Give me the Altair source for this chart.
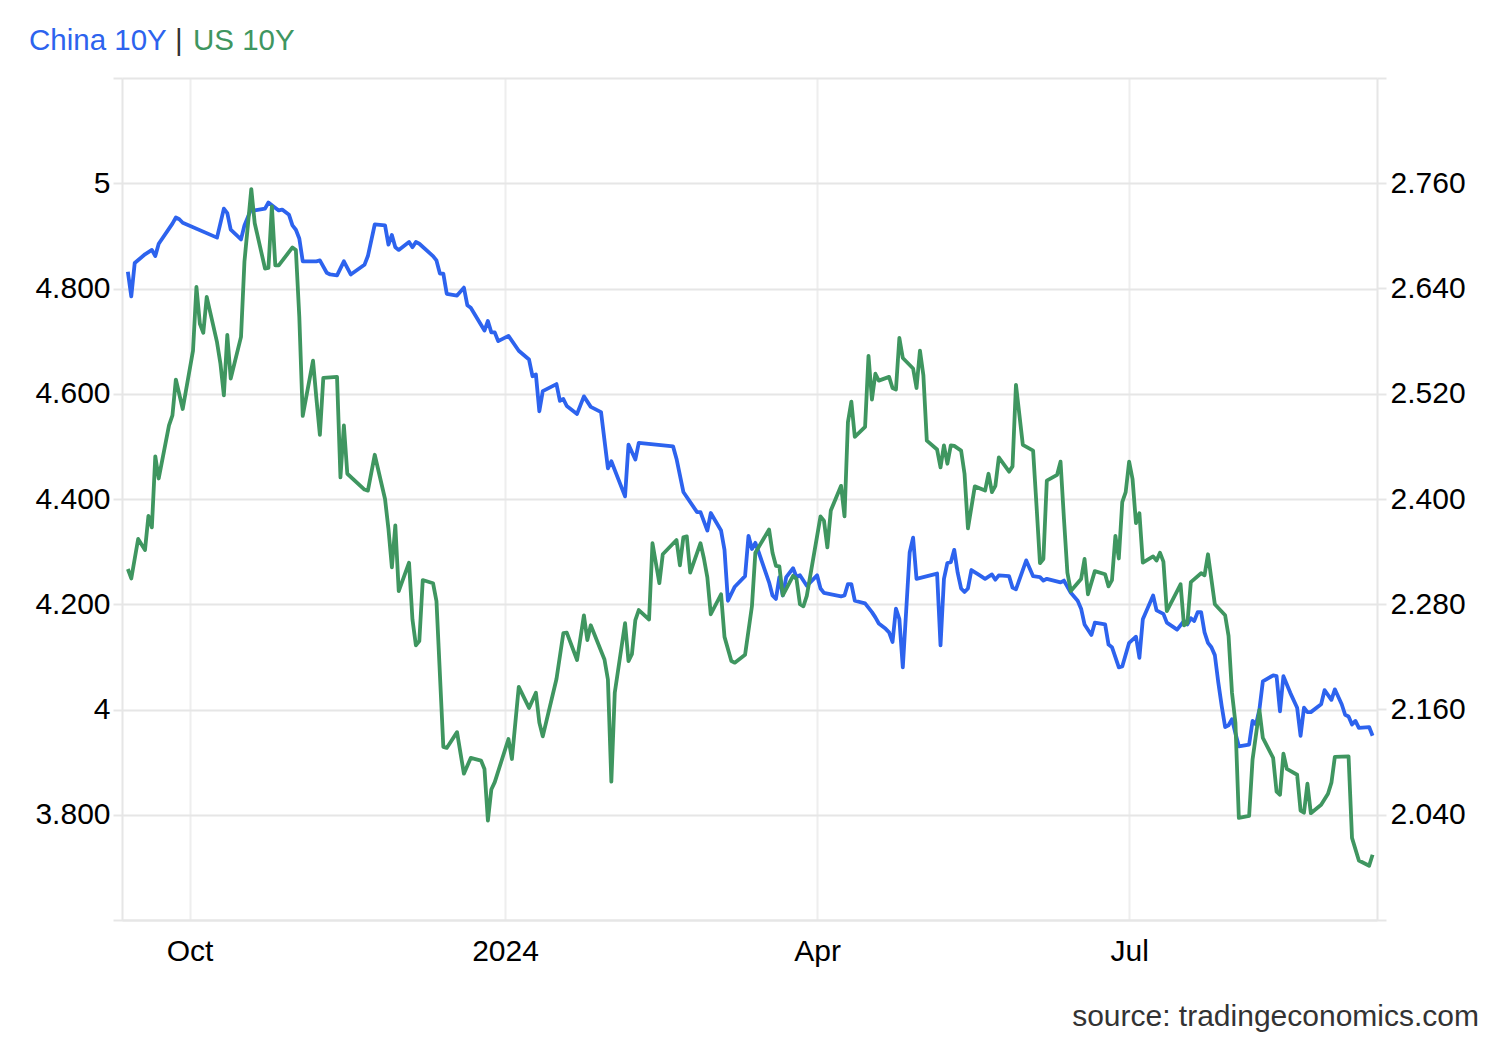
import altair as alt
import pandas as pd

# ---------------- data ----------------
china_dates = [
    "2023-09-13", "2023-09-14", "2023-09-15", "2023-09-18", "2023-09-20", "2023-09-21", "2023-09-22",
    "2023-09-26", "2023-09-27", "2023-09-28", "2023-09-29", "2023-10-09", "2023-10-11", "2023-10-12",
    "2023-10-13", "2023-10-16", "2023-10-17", "2023-10-19", "2023-10-20", "2023-10-23", "2023-10-24",
    "2023-10-25", "2023-10-27", "2023-10-28", "2023-10-30", "2023-10-31", "2023-11-01", "2023-11-02",
    "2023-11-03", "2023-11-07", "2023-11-08", "2023-11-10", "2023-11-11", "2023-11-13", "2023-11-15",
    "2023-11-17", "2023-11-21", "2023-11-22", "2023-11-24", "2023-11-27", "2023-11-28", "2023-11-29",
    "2023-11-30", "2023-12-01", "2023-12-04", "2023-12-05", "2023-12-06", "2023-12-07", "2023-12-11",
    "2023-12-12", "2023-12-13", "2023-12-14", "2023-12-15", "2023-12-18", "2023-12-20", "2023-12-21",
    "2023-12-22", "2023-12-26", "2023-12-27", "2023-12-28", "2023-12-29", "2023-12-30", "2024-01-02",
    "2024-01-05", "2024-01-08", "2024-01-09", "2024-01-10", "2024-01-11", "2024-01-12", "2024-01-16",
    "2024-01-17", "2024-01-18", "2024-01-19", "2024-01-22", "2024-01-24", "2024-01-26", "2024-01-29",
    "2024-01-31", "2024-02-01", "2024-02-05", "2024-02-06", "2024-02-08", "2024-02-09", "2024-02-19",
    "2024-02-20", "2024-02-22", "2024-02-26", "2024-02-27", "2024-02-29", "2024-03-01", "2024-03-04",
    "2024-03-05", "2024-03-06", "2024-03-08", "2024-03-11", "2024-03-12", "2024-03-13", "2024-03-14",
    "2024-03-15", "2024-03-18", "2024-03-19", "2024-03-20", "2024-03-21", "2024-03-22", "2024-03-23",
    "2024-03-25", "2024-03-26", "2024-03-27", "2024-03-29", "2024-04-01", "2024-04-02", "2024-04-03",
    "2024-04-08", "2024-04-09", "2024-04-10", "2024-04-11", "2024-04-12", "2024-04-15", "2024-04-17",
    "2024-04-18", "2024-04-19", "2024-04-21", "2024-04-22", "2024-04-23", "2024-04-24", "2024-04-25",
    "2024-04-26", "2024-04-28", "2024-04-29", "2024-04-30", "2024-05-06", "2024-05-07", "2024-05-08",
    "2024-05-09", "2024-05-10", "2024-05-11", "2024-05-12", "2024-05-13", "2024-05-14", "2024-05-15",
    "2024-05-16", "2024-05-18", "2024-05-20", "2024-05-22", "2024-05-23", "2024-05-24", "2024-05-27",
    "2024-05-28", "2024-05-29", "2024-06-01", "2024-06-03", "2024-06-05", "2024-06-06", "2024-06-07",
    "2024-06-11", "2024-06-12", "2024-06-14", "2024-06-16", "2024-06-17", "2024-06-18", "2024-06-20",
    "2024-06-21", "2024-06-24", "2024-06-25", "2024-06-26", "2024-06-28", "2024-06-29", "2024-07-01",
    "2024-07-03", "2024-07-04", "2024-07-05", "2024-07-08", "2024-07-09", "2024-07-11", "2024-07-12",
    "2024-07-15", "2024-07-17", "2024-07-18", "2024-07-19", "2024-07-20", "2024-07-21", "2024-07-22",
    "2024-07-23", "2024-07-24", "2024-07-25", "2024-07-26", "2024-07-27", "2024-07-28", "2024-07-29",
    "2024-07-30", "2024-07-31", "2024-08-01", "2024-08-02", "2024-08-05", "2024-08-06", "2024-08-07",
    "2024-08-08", "2024-08-09", "2024-08-12", "2024-08-13", "2024-08-14", "2024-08-15", "2024-08-17",
    "2024-08-19", "2024-08-20", "2024-08-21", "2024-08-22", "2024-08-23", "2024-08-26", "2024-08-27",
    "2024-08-29", "2024-08-30", "2024-09-01", "2024-09-02", "2024-09-03", "2024-09-04", "2024-09-05",
    "2024-09-06", "2024-09-09", "2024-09-10",
]
china_values = [
    2.659, 2.631, 2.669, 2.679, 2.684, 2.677, 2.691,
    2.714, 2.721, 2.719, 2.715, 2.698, 2.731, 2.726,
    2.707, 2.696, 2.712, 2.731, 2.729, 2.731, 2.738,
    2.735, 2.729, 2.730, 2.724, 2.712, 2.707, 2.697,
    2.671, 2.671, 2.672, 2.658, 2.656, 2.655, 2.671,
    2.656, 2.667, 2.677, 2.713, 2.712, 2.690, 2.701,
    2.687, 2.684, 2.693, 2.687, 2.693, 2.691, 2.677,
    2.672, 2.657, 2.657, 2.634, 2.632, 2.641, 2.621,
    2.618, 2.592, 2.603, 2.590, 2.590, 2.580, 2.586,
    2.569, 2.559, 2.540, 2.542, 2.500, 2.523, 2.531,
    2.512, 2.514, 2.506, 2.497, 2.517, 2.505, 2.499,
    2.435, 2.443, 2.403, 2.462, 2.445, 2.464, 2.460,
    2.446, 2.408, 2.385, 2.385, 2.364, 2.384, 2.364,
    2.342, 2.284, 2.300, 2.312, 2.358, 2.343, 2.350,
    2.339, 2.305, 2.290, 2.286, 2.311, 2.290, 2.311,
    2.321, 2.311, 2.313, 2.301, 2.313, 2.298, 2.293,
    2.289, 2.290, 2.303, 2.303, 2.284, 2.281, 2.271,
    2.265, 2.258, 2.252, 2.248, 2.237, 2.275, 2.263,
    2.208, 2.339, 2.356, 2.309, 2.315, 2.233, 2.309,
    2.327, 2.328, 2.342, 2.316, 2.298, 2.294, 2.298,
    2.319, 2.314, 2.309, 2.314, 2.308, 2.313, 2.312,
    2.299, 2.297, 2.330, 2.312, 2.311, 2.307, 2.309,
    2.305, 2.307, 2.293, 2.284, 2.275, 2.257, 2.245,
    2.259, 2.257, 2.234, 2.231, 2.208, 2.209, 2.236,
    2.243, 2.219, 2.263, 2.290, 2.273, 2.269, 2.259,
    2.251, 2.261, 2.257, 2.264, 2.261, 2.271, 2.271,
    2.248, 2.236, 2.231, 2.222, 2.191, 2.164, 2.140,
    2.142, 2.149, 2.133, 2.118, 2.120, 2.147, 2.143,
    2.160, 2.192, 2.199, 2.198, 2.158, 2.198, 2.179,
    2.162, 2.130, 2.162, 2.157, 2.157, 2.166, 2.182,
    2.171, 2.183, 2.166, 2.154, 2.152, 2.143, 2.147,
    2.139, 2.140, 2.130,
]

us_dates = [
    "2023-09-13", "2023-09-14", "2023-09-16", "2023-09-18", "2023-09-19", "2023-09-20", "2023-09-21",
    "2023-09-22", "2023-09-25", "2023-09-26", "2023-09-27", "2023-09-29", "2023-10-02", "2023-10-03",
    "2023-10-04", "2023-10-05", "2023-10-06", "2023-10-09", "2023-10-10", "2023-10-11", "2023-10-12",
    "2023-10-13", "2023-10-16", "2023-10-17", "2023-10-19", "2023-10-20", "2023-10-23", "2023-10-24",
    "2023-10-25", "2023-10-26", "2023-10-27", "2023-10-31", "2023-11-01", "2023-11-02", "2023-11-03",
    "2023-11-06", "2023-11-07", "2023-11-08", "2023-11-09", "2023-11-13", "2023-11-14", "2023-11-15",
    "2023-11-16", "2023-11-21", "2023-11-22", "2023-11-24", "2023-11-27", "2023-11-28", "2023-11-29",
    "2023-11-30", "2023-12-01", "2023-12-04", "2023-12-05", "2023-12-06", "2023-12-07", "2023-12-08",
    "2023-12-11", "2023-12-12", "2023-12-14", "2023-12-15", "2023-12-18", "2023-12-20", "2023-12-22",
    "2023-12-25", "2023-12-26", "2023-12-27", "2023-12-28", "2023-12-29", "2024-01-02", "2024-01-03",
    "2024-01-05", "2024-01-08", "2024-01-10", "2024-01-11", "2024-01-12", "2024-01-16", "2024-01-18",
    "2024-01-19", "2024-01-22", "2024-01-24", "2024-01-25", "2024-01-26", "2024-01-30", "2024-01-31",
    "2024-02-01", "2024-02-02", "2024-02-05", "2024-02-06", "2024-02-07", "2024-02-08", "2024-02-09",
    "2024-02-12", "2024-02-13", "2024-02-15", "2024-02-16", "2024-02-20", "2024-02-21", "2024-02-22",
    "2024-02-23", "2024-02-24", "2024-02-27", "2024-02-28", "2024-02-29", "2024-03-01", "2024-03-04",
    "2024-03-05", "2024-03-07", "2024-03-08", "2024-03-11", "2024-03-13", "2024-03-14", "2024-03-18",
    "2024-03-19", "2024-03-20", "2024-03-21", "2024-03-22", "2024-03-25", "2024-03-26", "2024-03-27",
    "2024-03-28", "2024-03-29", "2024-04-02", "2024-04-03", "2024-04-04", "2024-04-05", "2024-04-08",
    "2024-04-09", "2024-04-10", "2024-04-11", "2024-04-12", "2024-04-15", "2024-04-16", "2024-04-17",
    "2024-04-18", "2024-04-19", "2024-04-22", "2024-04-23", "2024-04-24", "2024-04-25", "2024-04-26",
    "2024-04-29", "2024-04-30", "2024-05-01", "2024-05-02", "2024-05-03", "2024-05-06", "2024-05-07",
    "2024-05-08", "2024-05-09", "2024-05-10", "2024-05-11", "2024-05-13", "2024-05-14", "2024-05-15",
    "2024-05-17", "2024-05-20", "2024-05-21", "2024-05-22", "2024-05-23", "2024-05-24", "2024-05-27",
    "2024-05-28", "2024-05-29", "2024-05-31", "2024-06-03", "2024-06-04", "2024-06-05", "2024-06-06",
    "2024-06-07", "2024-06-10", "2024-06-11", "2024-06-12", "2024-06-13", "2024-06-14", "2024-06-17",
    "2024-06-18", "2024-06-19", "2024-06-21", "2024-06-24", "2024-06-25", "2024-06-26", "2024-06-27",
    "2024-06-28", "2024-06-29", "2024-06-30", "2024-07-01", "2024-07-02", "2024-07-03", "2024-07-04",
    "2024-07-05", "2024-07-08", "2024-07-09", "2024-07-10", "2024-07-11", "2024-07-12", "2024-07-15",
    "2024-07-16", "2024-07-17", "2024-07-18", "2024-07-19", "2024-07-22", "2024-07-23", "2024-07-24",
    "2024-07-26", "2024-07-29", "2024-07-30", "2024-07-31", "2024-08-01", "2024-08-02", "2024-08-05",
    "2024-08-06", "2024-08-08", "2024-08-09", "2024-08-12", "2024-08-13", "2024-08-14", "2024-08-15",
    "2024-08-16", "2024-08-19", "2024-08-20", "2024-08-21", "2024-08-22", "2024-08-23", "2024-08-26",
    "2024-08-28", "2024-08-29", "2024-08-30", "2024-09-03", "2024-09-04", "2024-09-06", "2024-09-09",
    "2024-09-10",
]
us_values = [
    4.267, 4.249, 4.324, 4.303, 4.368, 4.346, 4.481,
    4.439, 4.540, 4.559, 4.627, 4.571, 4.682, 4.803,
    4.733, 4.716, 4.784, 4.698, 4.657, 4.597, 4.712,
    4.629, 4.708, 4.851, 4.989, 4.924, 4.838, 4.839,
    4.956, 4.844, 4.844, 4.878, 4.873, 4.746, 4.558,
    4.663, 4.590, 4.522, 4.630, 4.632, 4.441, 4.540,
    4.448, 4.418, 4.416, 4.484, 4.400, 4.343, 4.270,
    4.350, 4.225, 4.279, 4.171, 4.122, 4.130, 4.246,
    4.240, 4.206, 3.929, 3.927, 3.957, 3.878, 3.908,
    3.903, 3.887, 3.789, 3.848, 3.862, 3.944, 3.906,
    4.043, 4.003, 4.032, 3.975, 3.949, 4.058, 4.145,
    4.146, 4.094, 4.179, 4.132, 4.160, 4.095, 4.057,
    3.863, 4.032, 4.164, 4.092, 4.105, 4.170, 4.189,
    4.171, 4.316, 4.240, 4.295, 4.322, 4.274, 4.327,
    4.329, 4.260, 4.316, 4.287, 4.251, 4.181, 4.219,
    4.138, 4.092, 4.089, 4.104, 4.196, 4.298, 4.342,
    4.298, 4.273, 4.272, 4.217, 4.254, 4.248, 4.200,
    4.196, 4.216, 4.367, 4.359, 4.308, 4.378, 4.425,
    4.367, 4.546, 4.585, 4.518, 4.537, 4.672, 4.589,
    4.638, 4.625, 4.632, 4.611, 4.608, 4.706, 4.668,
    4.648, 4.611, 4.682, 4.635, 4.511, 4.494, 4.460,
    4.502, 4.467, 4.502, 4.501, 4.492, 4.448, 4.344,
    4.424, 4.416, 4.448, 4.413, 4.425, 4.479, 4.452,
    4.462, 4.617, 4.503, 4.492, 4.387, 4.278, 4.286,
    4.435, 4.446, 4.471, 4.362, 4.260, 4.225, 4.248,
    4.286, 4.219, 4.263, 4.257, 4.234, 4.246, 4.330,
    4.287, 4.394, 4.413, 4.471, 4.438, 4.354, 4.373,
    4.279, 4.291, 4.283, 4.298, 4.281, 4.187, 4.225,
    4.238, 4.160, 4.164, 4.242, 4.259, 4.255, 4.295,
    4.200, 4.179, 4.140, 4.032, 3.975, 3.794, 3.798,
    3.905, 3.999, 3.946, 3.908, 3.844, 3.838, 3.916,
    3.887, 3.876, 3.808, 3.804, 3.859, 3.803, 3.819,
    3.840, 3.861, 3.910, 3.911, 3.756, 3.713, 3.703,
    3.724,
]

us_ticks = [3.6, 3.8, 4.0, 4.2, 4.4, 4.6, 4.8, 5.0, 5.2]
china_ticks = [1.92, 2.04, 2.16, 2.28, 2.40, 2.52, 2.64, 2.76, 2.88]
month_ticks = ["2023-10-01", "2024-01-01", "2024-04-01", "2024-07-01"]
x_range = ["2023-09-11", "2024-09-11"]

title_parts = ["China 10Y", "|", "US 10Y"]
source_text = "source: tradingeconomics.com"

# ---------------- styling ----------------
FONT = "Liberation Sans"
FS = 30
TFS = 29.5
BLUE = "#2d63ee"
GREEN = "#3f9660"
GRID = "#e6e6e6"
XGRID = "#eeeeee"
LW = 3.8


def dt(s, hours=0):
    return alt.DateTime(year=int(s[:4]), month=int(s[5:7]), date=int(s[8:10]), hours=hours, utc=True)


china_df = pd.DataFrame({"date": china_dates, "value": china_values})
us_df = pd.DataFrame({"date": us_dates, "value": us_values})

x_enc = alt.X(
    "date:T",
    scale=alt.Scale(type="utc", domain=[dt(x_range[0], 7), dt(x_range[1], 7)]),
    axis=alt.Axis(
        values=[dt(s) for s in month_ticks],
        labelExpr="utcFormat(datum.value, utcmonth(datum.value) == 0 ? '%Y' : '%b')",
        grid=True, gridColor=XGRID, gridWidth=2,
        ticks=False, domain=True, domainColor=GRID, domainWidth=2,
        labelFont=FONT, labelFontSize=FS, labelColor="#000000", labelPadding=16,
        labelFlush=False, labelOverlap=False, title=None,
    ),
)

us_line = alt.Chart(us_df).mark_line(color=GREEN, strokeWidth=LW, strokeJoin="round").encode(
    x=x_enc,
    y=alt.Y(
        "value:Q",
        scale=alt.Scale(domain=[us_ticks[0], us_ticks[-1]], nice=False, zero=False),
        axis=alt.Axis(
            orient="left", values=us_ticks,
            labelExpr="(datum.value < 3.7 || datum.value > 5.1) ? '' : "
                      "(abs(datum.value - round(datum.value)) < 0.000001 ? format(datum.value, 'd') : format(datum.value, '.3f'))",
            grid=True, gridColor=GRID, gridWidth=2,
            ticks=True, tickColor=GRID, tickSize=9, tickWidth=2,
            domain=True, domainColor=GRID, domainWidth=2,
            labelFont=FONT, labelFontSize=FS, labelColor="#000000", labelPadding=3,
            labelOverlap=False, labelFlush=False, title=None,
        ),
    ),
)

china_line = alt.Chart(china_df).mark_line(color=BLUE, strokeWidth=LW, strokeJoin="round").encode(
    x=x_enc,
    y=alt.Y(
        "value:Q",
        scale=alt.Scale(domain=[china_ticks[0], china_ticks[-1]], nice=False, zero=False),
        axis=alt.Axis(
            orient="right", values=china_ticks,
            labelExpr="(datum.value < 2.0 || datum.value > 2.8) ? '' : format(datum.value, '.3f')",
            grid=False,
            ticks=True, tickColor=GRID, tickSize=9, tickWidth=2,
            domain=True, domainColor=GRID, domainWidth=2,
            labelFont=FONT, labelFontSize=FS, labelColor="#000000", labelPadding=4,
            labelOverlap=False, labelFlush=False, title=None,
        ),
    ),
)


def label(text, x, y, color, size, align="left"):
    return alt.Chart(pd.DataFrame({"t": [text]})).mark_text(
        font=FONT, fontSize=size, color=color, align=align, baseline="alphabetic"
    ).encode(x=alt.value(x), y=alt.value(y), text="t:N")


title_layers = [
    label(title_parts[0], -93, -28, BLUE, TFS),
    label(title_parts[1], 53, -28, "#333333", TFS),
    label(title_parts[2], 71, -28, GREEN, TFS),
]
source_layer = label(source_text, 1357, 948, "#333333", FS, align="right")

chart = alt.layer(china_line, us_line, *title_layers, source_layer).resolve_scale(
    y="independent"
).properties(
    width=1255,
    height=842,
    autosize=alt.AutoSizeParams(type="none"),
    padding={"left": 122, "top": 78, "right": 123, "bottom": 120},
    background="white",
).configure_view(stroke=None)

chart.save("out.html", embed_options={"renderer": "svg", "actions": False})
